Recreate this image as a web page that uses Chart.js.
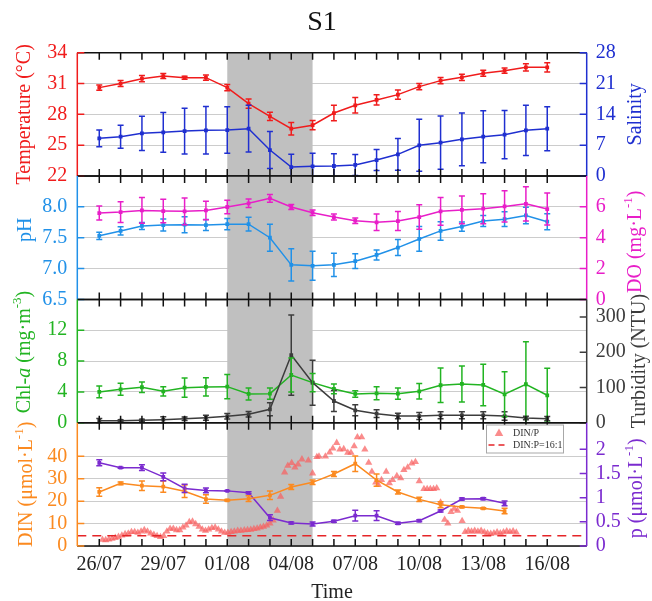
<!DOCTYPE html>
<html lang="en">
<head>
  <meta charset="UTF-8">
  <title>S1</title>
  <script src="https://cdn.jsdelivr.net/npm/chart.js"></script>
  <style>
    body { margin: 0; background: #fff; }
    #wrap { position: relative; width: 652px; height: 601px; }
    #wrap canvas { position: absolute; left: 0; top: 0; }
    #title { position: absolute; left: 282px; width: 80px; top: 7px; text-align: center;
             font: 28px/28px "Liberation Serif", "Times New Roman", serif; color: #111; }
  </style>
</head>
<body>
  <div id="wrap">
    <canvas id="p1" width="652" height="601"></canvas>
    <canvas id="p2" width="652" height="601"></canvas>
    <canvas id="p3" width="652" height="601"></canvas>
    <canvas id="p4" width="652" height="601"></canvas>
    <div id="title">S1</div>
  </div>

  <script>
    const FONT = '"Liberation Serif", "Times New Roman", serif';

    // days counted from 26/07
    const DAYS = [0, 1, 2, 3, 4, 5, 6, 7, 8, 9, 10, 11, 12, 13, 14, 15, 16, 17, 18, 19, 20, 21];
    const TICK_DAYS = [0, 3, 6, 9, 12, 15, 18, 21];
    const DATE_LABELS = ['26/07', '29/07', '01/08', '04/08', '07/08', '10/08', '13/08', '16/08'];
    const SHADE = [6, 10]; // 01/08 - 05/08

    const TEMP = [30.6, 31.0, 31.47, 31.73, 31.57, 31.57, 30.6, 29.04, 27.8, 26.6, 26.94, 28.13, 28.88, 29.4, 29.92, 30.7, 31.28, 31.6, 32.0, 32.25, 32.58, 32.58];
    const TEMP_ERR = [0.25, 0.3, 0.3, 0.25, 0.15, 0.25, 0.3, 0.45, 0.4, 0.6, 0.45, 0.75, 0.75, 0.5, 0.45, 0.3, 0.3, 0.3, 0.3, 0.25, 0.35, 0.45];
    const SAL = [8.56, 8.93, 9.69, 9.91, 10.2, 10.37, 10.44, 10.74, 5.9, 2.04, 2.19, 2.27, 2.5, 3.63, 4.92, 6.96, 7.57, 8.32, 8.93, 9.39, 10.37, 10.74];
    const SAL_ERR = [1.9, 2.6, 3.9, 4.5, 5.2, 5.4, 5.3, 5.3, 4.2, 2.9, 2.95, 2.8, 2.4, 2.4, 3.6, 5.9, 6.05, 6.0, 5.9, 5.5, 5.7, 5.0];

    const PH = [7.53, 7.61, 7.69, 7.705, 7.71, 7.705, 7.72, 7.72, 7.5, 7.06, 7.045, 7.06, 7.12, 7.22, 7.34, 7.48, 7.61, 7.68, 7.77, 7.80, 7.86, 7.76];
    const PH_ERR = [0.06, 0.068, 0.057, 0.097, 0.13, 0.09, 0.09, 0.11, 0.22, 0.26, 0.235, 0.19, 0.12, 0.08, 0.13, 0.2, 0.15, 0.076, 0.09, 0.12, 0.135, 0.13];
    const DO = [5.6, 5.66, 5.77, 5.73, 5.71, 5.77, 5.99, 6.23, 6.55, 5.99, 5.62, 5.34, 5.1, 5.0, 5.08, 5.34, 5.71, 5.8, 5.88, 6.03, 6.2, 5.86];
    const DO_ERR = [0.45, 0.67, 0.84, 0.76, 0.87, 0.6, 0.44, 0.28, 0.25, 0.16, 0.18, 0.2, 0.18, 0.54, 0.62, 0.8, 0.9, 0.9, 0.97, 1.02, 1.11, 1.03];

    const CHLA = [3.99, 4.33, 4.6, 4.08, 4.55, 4.64, 4.68, 3.73, 3.77, 6.19, 5.2, 4.38, 3.73, 3.82, 3.77, 4.08, 4.86, 5.03, 4.9, 3.69, 4.99, 3.56];
    const CHLA_ERR = [0.76, 0.78, 0.69, 0.6, 1.26, 1.19, 1.58, 0.78, 0.74, 2.2, 1.17, 0.63, 0.43, 0.84, 0.74, 1.0, 2.25, 2.34, 2.7, 2.92, 5.5, 3.5];
    const TURB = [5.7, 5.7, 6.8, 8.5, 11.4, 14.2, 18.2, 23.9, 38, 192, 113.6, 61.6, 35.2, 25.6, 19, 19, 21, 21, 21, 19, 13.4, 11.4];
    const TURB_ERR = [6, 3, 3, 8.5, 5, 7, 8, 8, 18.5, 114, 64, 30, 15.6, 11, 8, 10, 10, 10, 10, 12, 5, 6];

    const DIN = [24.1, 27.95, 26.9, 26.45, 24.4, 20.96, 20.4, 21.1, 22.6, 26.3, 28.4, 32.1, 36.7, 29.4, 24.1, 20.8, 18.4, 17.4, 16.8, 15.6];
    const DIN_ERR = [1.9, 0.6, 2.1, 2.5, 2.8, 1.9, 0.3, 1.3, 1.9, 1.1, 1.0, 1.1, 3.5, 2.7, 0.9, 1.0, 1.3, 0.3, 0.3, 1.2];
    const PO4 = [1.72, 1.62, 1.62, 1.43, 1.19, 1.15, 1.14, 1.10, 0.585, 0.476, 0.455, 0.51, 0.627, 0.627, 0.469, 0.523, 0.724, 0.972, 0.978, 0.883];
    const PO4_ERR = [0.062, 0.01, 0.06, 0.08, 0.086, 0.05, 0.01, 0.02, 0.06, 0.02, 0.04, 0.02, 0.11, 0.1, 0.02, 0.02, 0.02, 0.02, 0.02, 0.05];

    // high-frequency DIN/P ratio (time in days from 26/07)
    const RATIO_DAY = [
      0.15, 0.3, 0.45, 0.6, 0.75, 0.9, 1.06, 1.21, 1.36, 1.51, 1.66, 1.81, 1.96, 2.11, 2.26, 2.41, 2.56, 2.71, 2.87, 3.02,
      3.17, 3.32, 3.47, 3.62, 3.77, 3.92, 4.07, 4.22, 4.37, 4.52, 4.68, 4.83, 4.98, 5.13, 5.28, 5.43, 5.58, 5.73, 5.88, 6.03,
      6.18, 6.33, 6.49, 6.64, 6.8, 6.95, 7.1, 7.25, 7.4, 7.55, 7.7, 7.85, 8.0, 8.15, 8.35, 8.5,
      8.69, 8.84, 9.02, 9.17, 9.32, 9.5, 9.8, 10.0, 10.2, 10.3, 10.6, 10.8, 10.95, 11.13, 11.28, 11.46, 11.65, 11.8, 11.95,
      12.1, 12.3, 12.45, 12.63, 12.78, 12.96, 13.08, 13.23, 13.45, 13.6, 13.75, 13.95, 14.13, 14.28, 14.46, 14.65, 14.82,
      15.0, 15.22, 15.37, 15.52, 15.67, 15.82, 16.0, 16.19, 16.34, 16.49, 16.64, 16.79, 17.01,
      17.15, 17.3, 17.45, 17.6, 17.75, 17.9, 18.05, 18.2, 18.35, 18.5, 18.65, 18.8, 18.95, 19.1, 19.25, 19.4, 19.55
    ];
    const RATIO = [
      9.8, 9.3, 10.3, 11.3, 12.8, 14.3, 16.5, 18.6, 19.6, 21.8, 21.8, 20.7, 22.8, 24.8, 22.8, 19.6, 17.6, 15.6, 14, 15.6,
      22.8, 26.9, 26.9, 24.8, 24.8, 29, 32, 37.3, 38.3, 34.2, 30.1, 25.8, 23.8, 25.8, 28, 29, 25.8, 22.8, 20.7, 20.7,
      21.8, 22.8, 23.8, 24, 24.5, 25, 25.5, 26.5, 27.5, 29, 30, 32, 35, 40, 55, 77,
      114.8, 125.2, 129.3, 122.5, 127.2, 135, 133.4, 113.2, 138.6, 139.5, 139.5, 145.8, 152, 160.7, 150.4, 151, 145.3, 145.3, 155.6,
      169.4, 169.4, 150.4, 129.7, 115.8, 98.9, 95.3, 102.9, 115.8, 97.8, 102.9, 109.2, 105.6, 118.5, 122.5, 128.8, 131,
      101, 89, 89, 89, 89, 90, 68, 41, 35, 53, 58, 55, 39,
      22, 24, 22.5, 24, 22.5, 24, 21.5, 20, 19, 20, 21.5, 20, 21.5, 23, 22, 23, 21
    ];
    const REDFIELD = 16;

    const T_TICKS = [22, 25, 28, 31, 34];
    const SAL_TICKS = [0, 7, 14, 21, 28];
    const PH_TICKS = [6.5, 7.0, 7.5, 8.0];
    const DO_TICKS = [0, 2, 4, 6];
    const CHLA_TICKS = [0, 4, 8, 12];
    const TURB_TICKS = [0, 100, 200, 300];
    const DIN_TICKS = [0, 10, 20, 30, 40];
    const PO4_TICKS = [0, 0.5, 1, 1.5, 2];

    const C = {
      temp: '#f01c1c', sal: '#1f2fd0', ph: '#2191e8', dox: '#e81ec8',
      chla: '#22b422', turb: '#3c3c3c', din: '#fb8a20', po4: '#7b2bcf',
      ratio: 'rgba(248, 96, 96, 0.72)', redfield: '#e52528', shade: '#c0c0c0'
    };

    const X_MIN = -1.03, X_MAX = 22.85;
    const LEFT_W = 77.3, RIGHT_W = 65.3;

    function series(values, errors, color, axis) {
      return {
        data: values.map((v, i) => ({ x: DAYS[i], y: v })),
        errors, yAxisID: axis,
        borderColor: color, backgroundColor: color, borderWidth: 1.5,
        pointStyle: 'rect', pointRadius: 1.6, pointHoverRadius: 1.6, tension: 0, fill: false
      };
    }

    function yScale(pos, color, min, max, ticks, fmt, grid) {
      return {
        type: 'linear', position: pos, min, max,
        afterBuildTicks: s => { s.ticks = ticks.map(v => ({ value: v })); },
        afterFit: s => { s.width = pos === 'left' ? LEFT_W : RIGHT_W; },
        grid: grid ? { color: '#cccccc', lineWidth: 1, drawTicks: false } : { display: false, drawTicks: false },
        border: { display: false },
        ticks: {
          color, autoSkip: false, padding: pos === 'left' ? 10 : 9,
          font: { family: FONT, size: 20 },
          callback: fmt || (v => String(v))
        }
      };
    }

    function drawRich(ctx, segs, cx, cy, color) {
      const fontOf = s => (s.italic ? 'italic ' : '') + (s.sup ? 13 : 20) + 'px ' + FONT;
      ctx.save();
      ctx.translate(cx, cy);
      ctx.rotate(-Math.PI / 2);
      ctx.fillStyle = color;
      ctx.textBaseline = 'middle';
      ctx.textAlign = 'left';
      let total = 0;
      segs.forEach(s => { ctx.font = fontOf(s); total += ctx.measureText(s.t).width; });
      let x = -total / 2;
      segs.forEach(s => {
        ctx.font = fontOf(s);
        ctx.fillText(s.t, x, s.sup ? -7 : 0);
        x += ctx.measureText(s.t).width;
      });
      ctx.restore();
    }

    function triangle(ctx, x, y, r) {
      ctx.beginPath();
      ctx.moveTo(x, y - r);
      ctx.lineTo(x + r * 0.95, y + r * 0.65);
      ctx.lineTo(x - r * 0.95, y + r * 0.65);
      ctx.closePath();
      ctx.fill();
    }

    // shaded event window, error bars, axis frame, axis titles, legend
    const panelDeco = {
      id: 'panelDeco',
      beforeDatasetsDraw(chart) {
        const { ctx, chartArea: a, scales } = chart;
        const x1 = scales.x.getPixelForValue(SHADE[0]);
        const x2 = scales.x.getPixelForValue(SHADE[1]);
        ctx.save();
        ctx.fillStyle = C.shade;
        ctx.fillRect(x1, a.top, x2 - x1, a.height);
        ctx.restore();
      },
      afterDatasetsDraw(chart) {
        const { ctx, chartArea: a } = chart;
        ctx.save();
        ctx.beginPath();
        ctx.rect(a.left, a.top - 1, a.width, a.height + 2);
        ctx.clip();
        chart.data.datasets.forEach((ds, i) => {
          if (!ds.errors) return;
          const ys = chart.scales[ds.yAxisID];
          const meta = chart.getDatasetMeta(i);
          ctx.strokeStyle = ds.borderColor;
          ctx.lineWidth = 1.5;
          meta.data.forEach((pt, j) => {
            const v = ds.data[j].y, e = ds.errors[j];
            const y1 = ys.getPixelForValue(v - e), y2 = ys.getPixelForValue(v + e);
            ctx.beginPath();
            ctx.moveTo(pt.x, y1); ctx.lineTo(pt.x, y2);
            ctx.moveTo(pt.x - 3, y1); ctx.lineTo(pt.x + 3, y1);
            ctx.moveTo(pt.x - 3, y2); ctx.lineTo(pt.x + 3, y2);
            ctx.stroke();
          });
        });
        ctx.restore();
      },
      afterDraw(chart) {
        const { ctx, chartArea: a, scales } = chart;
        const o = chart.options.plugins.panelDeco;
        ctx.save();
        ctx.lineWidth = 1.5;

        // inward day ticks and black top / bottom borders
        ctx.strokeStyle = '#111';
        ctx.beginPath();
        DAYS.forEach(d => {
          const x = scales.x.getPixelForValue(d);
          ctx.moveTo(x, a.top); ctx.lineTo(x, a.top + 7);
          ctx.moveTo(x, a.bottom); ctx.lineTo(x, a.bottom - 7);
        });
        ctx.moveTo(a.left, a.top); ctx.lineTo(a.right, a.top);
        ctx.moveTo(a.left, a.bottom); ctx.lineTo(a.right, a.bottom);
        ctx.stroke();

        // coloured y axes with inward ticks
        [['yl', a.left, 7], ['yr', a.right, -7]].forEach(([id, x, len]) => {
          const s = scales[id];
          ctx.strokeStyle = s.options.ticks.color;
          ctx.beginPath();
          ctx.moveTo(x, a.top); ctx.lineTo(x, a.bottom);
          s.ticks.forEach(t => {
            const y = s.getPixelForValue(t.value);
            ctx.moveTo(x, y); ctx.lineTo(x + len, y);
          });
          ctx.stroke();
        });
        ctx.restore();

        const mid = (a.top + a.bottom) / 2;
        drawRich(ctx, o.left.segs, o.left.x, mid + (o.left.dy || 0), scales.yl.options.ticks.color);
        drawRich(ctx, o.right.segs, o.right.x, mid + (o.right.dy || 0), scales.yr.options.ticks.color);

        if (o.legend) {
          const L = o.legend;
          ctx.save();
          ctx.fillStyle = '#fff';
          ctx.strokeStyle = '#a8a8a8';
          ctx.lineWidth = 1;
          ctx.fillRect(L.x, L.y, L.w, L.h);
          ctx.strokeRect(L.x, L.y, L.w, L.h);
          ctx.fillStyle = C.ratio;
          triangle(ctx, L.x + 12.5, L.y + 8, 4.5);
          ctx.strokeStyle = C.redfield;
          ctx.lineWidth = 1.5;
          ctx.setLineDash([6, 4]);
          ctx.beginPath();
          ctx.moveTo(L.x + 2, L.y + 20); ctx.lineTo(L.x + 22, L.y + 20);
          ctx.stroke();
          ctx.fillStyle = '#333';
          ctx.font = '10px ' + FONT;
          ctx.textBaseline = 'middle';
          ctx.fillText('DIN/P', L.x + 26.5, L.y + 8);
          ctx.fillText('DIN:P=16:1', L.x + 26.5, L.y + 20.5);
          ctx.restore();
        }
      }
    };

    function xScale(bottom) {
      if (!bottom) return { type: 'linear', min: X_MIN, max: X_MAX, display: false };
      return {
        type: 'linear', min: X_MIN, max: X_MAX,
        afterBuildTicks: s => { s.ticks = TICK_DAYS.map(v => ({ value: v })); },
        afterFit: s => { s.height = 55; },
        grid: { display: false, drawTicks: false },
        border: { display: false },
        ticks: {
          color: '#222', padding: 7, autoSkip: false, maxRotation: 0,
          font: { family: FONT, size: 20 },
          callback: v => DATE_LABELS[TICK_DAYS.indexOf(v)]
        },
        title: {
          display: true, text: 'Time', color: '#222',
          font: { family: FONT, size: 20, lineHeight: 0.8 }, padding: { top: 0, bottom: 0 }
        }
      };
    }

    function makePanel(id, top, bottom, datasets, scales, deco) {
      return new Chart(document.getElementById(id), {
        type: 'line',
        data: { datasets },
        options: {
          responsive: false, animation: false, events: [],
          layout: { padding: { top, bottom, left: 0, right: 0 } },
          scales,
          plugins: { legend: { display: false }, tooltip: { enabled: false }, panelDeco: deco }
        },
        plugins: [panelDeco]
      });
    }

    // Temperature / salinity
    makePanel('p1', 52.7, 601 - 176, [
      series(TEMP, TEMP_ERR, C.temp, 'yl'),
      series(SAL, SAL_ERR, C.sal, 'yr')
    ], {
      x: xScale(false),
      yl: yScale('left', C.temp, 22, 34, T_TICKS, null, true),
      yr: yScale('right', C.sal, 0, 28, SAL_TICKS, null, false)
    }, {
      left: { segs: [{ t: 'Temperature (°C)' }], x: 25 },
      right: { segs: [{ t: 'Salinity' }], x: 636 }
    });

    // pH / dissolved oxygen
    makePanel('p2', 176, 601 - 299.4, [
      series(PH, PH_ERR, C.ph, 'yl'),
      series(DO, DO_ERR, C.dox, 'yr')
    ], {
      x: xScale(false),
      yl: yScale('left', C.ph, 6.5, 8.5, PH_TICKS, v => v.toFixed(1), true),
      yr: yScale('right', C.dox, 0, 8, DO_TICKS, null, false)
    }, {
      left: { segs: [{ t: 'pH' }], x: 26, dy: -8 },
      right: { segs: [{ t: 'DO (mg·L' }, { t: '-1', sup: true }, { t: ')' }], x: 636, dy: 4 }
    });

    // Chlorophyll a / turbidity
    makePanel('p3', 299.4, 601 - 422.7, [
      series(TURB, TURB_ERR, C.turb, 'yr'),
      series(CHLA, CHLA_ERR, C.chla, 'yl')
    ], {
      x: xScale(false),
      yl: yScale('left', C.chla, 0, 16, CHLA_TICKS, null, true),
      yr: yScale('right', C.turb, 0, 350, TURB_TICKS, null, false)
    }, {
      left: { segs: [{ t: 'Chl-' }, { t: 'a', italic: true }, { t: ' (mg·m' }, { t: '-3', sup: true }, { t: ')' }], x: 25, dy: -9 },
      right: { segs: [{ t: 'Turbidity (NTU)' }], x: 640 }
    });

    // DIN / phosphate / DIN:P ratio
    makePanel('p4', 422.7, 0, [
      series(DIN, DIN_ERR, C.din, 'yl'),
      series(PO4, PO4_ERR, C.po4, 'yr'),
      {
        data: [{ x: X_MIN, y: REDFIELD }, { x: X_MAX, y: REDFIELD }], yAxisID: 'yq',
        borderColor: C.redfield, borderWidth: 1.5, borderDash: [9, 6], pointRadius: 0, fill: false
      },
      {
        data: RATIO.map((v, i) => ({ x: RATIO_DAY[i], y: v })), yAxisID: 'yq', showLine: false,
        pointStyle: 'triangle', pointRadius: 4.2, pointHoverRadius: 4.2,
        backgroundColor: C.ratio, borderColor: C.ratio, borderWidth: 0
      }
    ], {
      x: xScale(true),
      yl: yScale('left', C.din, 0, 55, DIN_TICKS, null, true),
      yr: yScale('right', C.po4, 0, 2.55, PO4_TICKS, null, false),
      yq: { type: 'linear', display: false, min: 0, max: 192 }
    }, {
      left: { segs: [{ t: 'DIN (μmol·L' }, { t: '-1', sup: true }, { t: ')' }], x: 27 },
      right: { segs: [{ t: 'p (μmol·L' }, { t: '-1', sup: true }, { t: ')' }], x: 637, dy: 4 },
      legend: { x: 486.5, y: 425, w: 77, h: 28 }
    });
  </script>
</body>
</html>
